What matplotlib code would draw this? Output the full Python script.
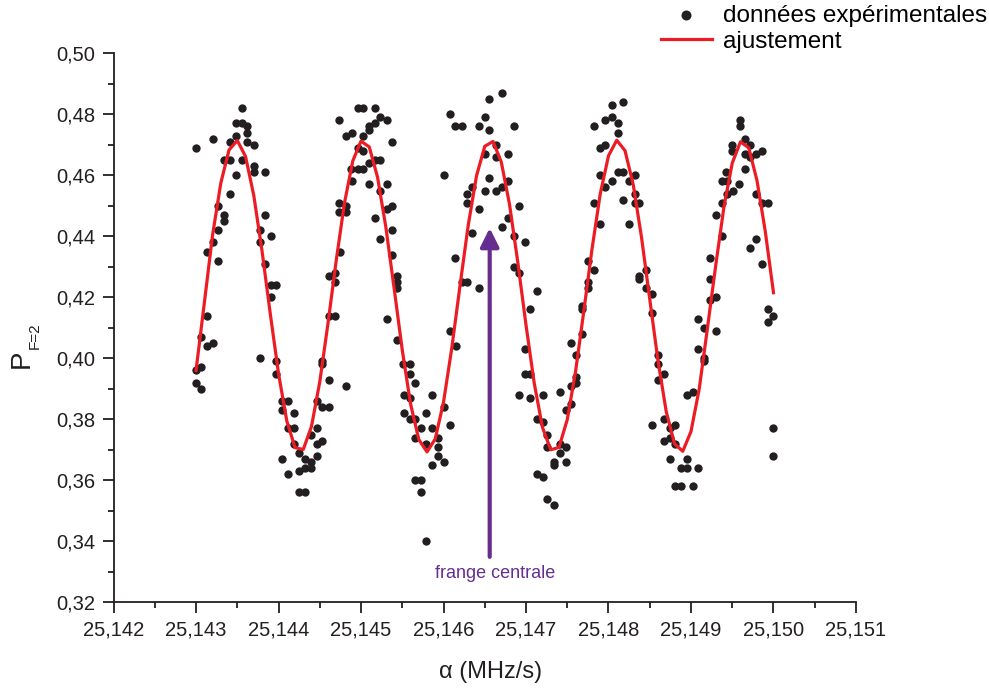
import numpy as np
from matplotlib import pyplot as plt
from matplotlib.ticker import MultipleLocator, FuncFormatter

plt.rcParams['font.family'] = ['Liberation Sans', 'DejaVu Sans']

# experimental points: alpha (MHz/s) and P_F=2
alpha_exp = [
    # fringe 1
    25.14356, 25.14348, 25.14356, 25.14362, 25.14362, 25.14349, 25.14321, 25.14300, 25.14341, 25.14362,
    25.14370, 25.14334, 25.14341, 25.14356, 25.14370, 25.14370, 25.14383, 25.14349, 25.14341, 25.14327,
    25.14334, 25.14334, 25.14327, 25.14383, 25.14377, 25.14377, 25.14391, 25.14320, 25.14313, 25.14327,
    25.14383, 25.14391, 25.14397, 25.14391, 25.14313, 25.14306, 25.14313, 25.14321, 25.14377, 25.14397,
    25.14397, 25.14300, 25.14306, 25.14300, 25.14306,
    # trough 1
    25.14404, 25.14411, 25.14404, 25.14419, 25.14411, 25.14419, 25.14419, 25.14425, 25.14432, 25.14404,
    25.14439, 25.14432, 25.14439, 25.14425, 25.14411, 25.14425, 25.14432, 25.14447, 25.14447, 25.14453,
    25.14439, 25.14447, 25.14447, 25.14453, 25.14461, 25.14453, 25.14453, 25.14461, 25.14461, 25.14468,
    # fringe 2
    25.14473, 25.14473, 25.14473, 25.14461, 25.14468, 25.14468, 25.14496, 25.14503, 25.14517, 25.14523,
    25.14531, 25.14517, 25.14510, 25.14510, 25.14489, 25.14482, 25.14503, 25.14538, 25.14496, 25.14503,
    25.14510, 25.14517, 25.14523, 25.14488, 25.14496, 25.14503, 25.14489, 25.14510, 25.14531, 25.14523,
    25.14482, 25.14482, 25.14538, 25.14531, 25.14517, 25.14538, 25.14523, 25.14475, 25.14538, 25.14544,
    25.14544, 25.14544, 25.14531,
    # trough 2
    25.14544, 25.14551, 25.14559, 25.14559, 25.14566, 25.14482, 25.14552, 25.14559, 25.14586, 25.14601,
    25.14552, 25.14559, 25.14566, 25.14579, 25.14608, 25.14573, 25.14586, 25.14566, 25.14579, 25.14593,
    25.14593, 25.14593, 25.14586, 25.14601, 25.14566, 25.14573, 25.14573, 25.14579,
    # fringe 3 (central)
    25.14608, 25.14614, 25.14622, 25.14643, 25.14650, 25.14655, 25.14655, 25.14650, 25.14601, 25.14635,
    25.14629, 25.14629, 25.14650, 25.14655, 25.14643, 25.14635, 25.14614, 25.14622, 25.14629, 25.14643,
    25.14608, 25.14615, 25.14671, 25.14685, 25.14664, 25.14678, 25.14664, 25.14678, 25.14671, 25.14664,
    25.14692, 25.14678, 25.14671, 25.14685, 25.14699, 25.14685, 25.14692, 25.14713, 25.14705,
    # trough 3
    25.14768, 25.14755, 25.14699, 25.14761, 25.14699, 25.14705, 25.14761, 25.14761, 25.14755, 25.14692,
    25.14705, 25.14720, 25.14741, 25.14755, 25.14748, 25.14713, 25.14720, 25.14726, 25.14726, 25.14741,
    25.14748, 25.14741, 25.14734, 25.14734, 25.14748, 25.14713, 25.14720, 25.14726, 25.14734,
    # fringe 4
    25.14804, 25.14817, 25.14796, 25.14804, 25.14811, 25.14783, 25.14811, 25.14790, 25.14796, 25.14811,
    25.14817, 25.14832, 25.14790, 25.14804, 25.14825, 25.14796, 25.14832, 25.14817, 25.14832, 25.14837,
    25.14783, 25.14790, 25.14825, 25.14775, 25.14783, 25.14775, 25.14775, 25.14768, 25.14768, 25.14837,
    25.14837, 25.14846, 25.14846, 25.14853, 25.14853,
    # trough 4
    25.14916, 25.14930, 25.14909, 25.14916, 25.14916, 25.14860, 25.14860, 25.14867, 25.14860, 25.14895,
    25.14902, 25.14867, 25.14853, 25.14881, 25.14874, 25.14874, 25.14867, 25.14881, 25.14895, 25.14874,
    25.14888, 25.14895, 25.14909, 25.14881, 25.14888, 25.14902,
    # fringe 5
    25.14959, 25.14959, 25.14965, 25.14950, 25.14972, 25.14950, 25.14986, 25.14965, 25.14972, 25.14979,
    25.14965, 25.14943, 25.14937, 25.14944, 25.14951, 25.14944, 25.14958, 25.14979, 25.14937, 25.14986,
    25.14993, 25.14930, 25.14937, 25.14972, 25.14979, 25.14986, 25.14923, 25.14923, 25.14930, 25.14923,
    25.14909, 25.14993, 25.15000, 25.14993, 25.15000, 25.15000,
]

p_exp = [
    # fringe 1
    0.482, 0.477, 0.477, 0.476, 0.474, 0.473, 0.472, 0.469, 0.471, 0.471,
    0.470, 0.465, 0.465, 0.465, 0.463, 0.461, 0.461, 0.460, 0.454, 0.450,
    0.447, 0.445, 0.442, 0.447, 0.442, 0.438, 0.440, 0.438, 0.435, 0.432,
    0.431, 0.424, 0.424, 0.420, 0.414, 0.407, 0.404, 0.405, 0.400, 0.399,
    0.395, 0.396, 0.397, 0.392, 0.390,
    # trough 1
    0.386, 0.386, 0.383, 0.382, 0.377, 0.377, 0.372, 0.369, 0.367, 0.367,
    0.366, 0.364, 0.364, 0.363, 0.362, 0.356, 0.356, 0.368, 0.372, 0.373,
    0.375, 0.377, 0.386, 0.384, 0.384, 0.399, 0.398, 0.393, 0.414, 0.414,
    # fringe 2
    0.478, 0.451, 0.448, 0.427, 0.428, 0.425, 0.482, 0.482, 0.482, 0.479,
    0.478, 0.477, 0.476, 0.475, 0.474, 0.473, 0.473, 0.471, 0.469, 0.468,
    0.464, 0.465, 0.465, 0.462, 0.462, 0.462, 0.458, 0.457, 0.457, 0.455,
    0.450, 0.448, 0.450, 0.449, 0.446, 0.442, 0.439, 0.435, 0.434, 0.427,
    0.425, 0.423, 0.413,
    # trough 2
    0.406, 0.398, 0.398, 0.395, 0.392, 0.391, 0.388, 0.387, 0.388, 0.384,
    0.382, 0.380, 0.380, 0.382, 0.378, 0.377, 0.377, 0.374, 0.372, 0.374,
    0.371, 0.368, 0.365, 0.366, 0.360, 0.360, 0.356, 0.340,
    # fringe 3 (central)
    0.480, 0.476, 0.476, 0.476, 0.479, 0.485, 0.475, 0.467, 0.460, 0.456,
    0.454, 0.451, 0.455, 0.459, 0.449, 0.441, 0.433, 0.425, 0.425, 0.423,
    0.409, 0.404, 0.487, 0.476, 0.470, 0.467, 0.466, 0.458, 0.456, 0.455,
    0.450, 0.446, 0.443, 0.440, 0.438, 0.430, 0.428, 0.422, 0.416,
    # trough 3
    0.408, 0.405, 0.403, 0.401, 0.395, 0.395, 0.394, 0.392, 0.391, 0.388,
    0.387, 0.388, 0.389, 0.385, 0.383, 0.380, 0.379, 0.375, 0.371, 0.372,
    0.371, 0.369, 0.366, 0.365, 0.366, 0.362, 0.361, 0.354, 0.352,
    # fringe 4
    0.483, 0.484, 0.478, 0.479, 0.477, 0.476, 0.474, 0.469, 0.470, 0.461,
    0.461, 0.460, 0.460, 0.458, 0.458, 0.456, 0.454, 0.452, 0.451, 0.451,
    0.451, 0.444, 0.444, 0.432, 0.429, 0.425, 0.423, 0.417, 0.416, 0.427,
    0.426, 0.429, 0.423, 0.421, 0.415,
    # trough 4
    0.410, 0.409, 0.403, 0.400, 0.399, 0.401, 0.398, 0.395, 0.393, 0.388,
    0.389, 0.380, 0.378, 0.378, 0.377, 0.374, 0.373, 0.372, 0.367, 0.367,
    0.364, 0.364, 0.364, 0.358, 0.358, 0.358,
    # fringe 5
    0.478, 0.476, 0.472, 0.470, 0.470, 0.468, 0.468, 0.467, 0.466, 0.467,
    0.462, 0.461, 0.458, 0.458, 0.455, 0.454, 0.457, 0.454, 0.451, 0.451,
    0.451, 0.447, 0.440, 0.436, 0.439, 0.431, 0.433, 0.426, 0.420, 0.419,
    0.413, 0.416, 0.414, 0.412, 0.377, 0.368,
]

# fitted curve, sampled every 0.0001 MHz/s
alpha_fit = np.linspace(25.143, 25.150, 71)
p_fit = [
    0.3960, 0.4180, 0.4403, 0.4574, 0.4683, 0.4714, 0.4662, 0.4534, 0.4352, 0.4146,
    0.3950, 0.3795, 0.3707, 0.3701, 0.3777, 0.3923, 0.4115, 0.4322, 0.4510, 0.4647,
    0.4712, 0.4693, 0.4594, 0.4432, 0.4232, 0.4027, 0.3851, 0.3734, 0.3693, 0.3736,
    0.3856, 0.4033, 0.4238, 0.4437, 0.4598, 0.4695, 0.4711, 0.4644, 0.4505, 0.4316,
    0.4109, 0.3918, 0.3773, 0.3700, 0.3708, 0.3799, 0.3955, 0.4153, 0.4358, 0.4539,
    0.4664, 0.4715, 0.4681, 0.4569, 0.4397, 0.4194, 0.3992, 0.3825, 0.3720, 0.3695,
    0.3760, 0.3900, 0.4100, 0.4305, 0.4497, 0.4640, 0.4710, 0.4690, 0.4583, 0.4417,
    0.4215,
]

central_alpha = 25.14656
black = '#231f20'
red = '#ed1c24'
purple = '#662d91'

fig = plt.figure(figsize=(9.89, 6.93), dpi=100)
ax = fig.add_axes([0.1148, 0.1309, 0.7507, 0.7922])

ax.scatter(alpha_exp, p_exp, s=36, color=black, linewidths=0, zorder=2,
           label='données expérimentales')
ax.plot(alpha_fit, p_fit, color=red, lw=2.3, zorder=3, label='ajustement')

# arrow pointing at the central fringe
ax.annotate('', xy=(central_alpha, 0.4427), xytext=(central_alpha, 0.3349),
            arrowprops=dict(arrowstyle='-|>', color=purple, lw=3,
                            mutation_scale=28, shrinkA=0, shrinkB=0))
ax.text(central_alpha + 0.00007, 0.3293, 'frange centrale', color=purple,
        fontsize=13, ha='center', va='center')

ax.set_xlim(25.142, 25.151)
ax.set_ylim(0.32, 0.50)
ax.xaxis.set_major_locator(MultipleLocator(0.001))
ax.xaxis.set_minor_locator(MultipleLocator(0.0005))
ax.yaxis.set_major_locator(MultipleLocator(0.02))
ax.yaxis.set_minor_locator(MultipleLocator(0.01))
ax.xaxis.set_major_formatter(FuncFormatter(lambda v, p: f'{v:.3f}'.replace('.', ',')))
ax.yaxis.set_major_formatter(FuncFormatter(lambda v, p: f'{v:.2f}'.replace('.', ',')))

for side in ['top', 'right']:
    ax.spines[side].set_visible(False)
for side in ['left', 'bottom']:
    ax.spines[side].set_linewidth(1.3)
    ax.spines[side].set_color(black)
ax.tick_params(which='major', direction='out', length=8, width=1.3, color=black,
               labelsize=14.5, labelcolor=black, pad=5)
ax.tick_params(which='minor', direction='out', length=4.5, width=1.3, color=black)

# axis labels
fig.text(0.496, 0.030, 'α (MHz/s)', fontsize=17, ha='center', va='center', color=black)
fig.text(0.022, 0.482, 'P', fontsize=20, rotation=90, ha='center', va='center', color=black)
fig.text(0.035, 0.516, 'F=2', fontsize=11, rotation=90, ha='center', va='center', color=black)

ax.legend(loc='upper left', bbox_to_anchor=(0.668, 0.993), bbox_transform=fig.transFigure,
          frameon=False, fontsize=17.5, borderpad=0, borderaxespad=0,
          handlelength=2.1, handletextpad=0.45, labelspacing=0.15, scatterpoints=1,
          markerscale=1.2)

fig.savefig('out.png', dpi=100)
